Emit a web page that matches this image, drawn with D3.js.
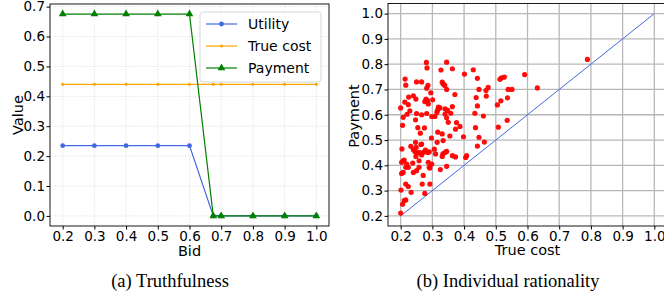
<!DOCTYPE html>
<html>
<head>
<meta charset="utf-8">
<script src="https://cdn.jsdelivr.net/npm/d3@7"></script>
<style>
  body { margin: 0; background: #fff; }
  svg text { font-family: "DejaVu Sans", sans-serif; }
  svg text.caption { font-family: "Liberation Serif", "Times New Roman", serif; }
</style>
</head>
<body>
<div id="chart"></div>
<script>
// (a) Truthfulness
const bids = [0.2, 0.3, 0.4, 0.5, 0.6, 0.675, 0.7, 0.8, 0.9, 1.0];
const utility = [0.235, 0.235, 0.235, 0.235, 0.235, 0, 0, 0, 0, 0];
const trueCost = [0.44, 0.44, 0.44, 0.44, 0.44, 0.44, 0.44, 0.44, 0.44, 0.44];
const payment = [0.675, 0.675, 0.675, 0.675, 0.675, 0, 0, 0, 0, 0];
const leftXTicks = [0.2, 0.3, 0.4, 0.5, 0.6, 0.7, 0.8, 0.9, 1.0];
const leftYTicks = [0.0, 0.1, 0.2, 0.3, 0.4, 0.5, 0.6, 0.7];

// (b) Individual rationality
const costs = [0.200, 0.206, 0.208, 0.214, 0.216, 0.213, 0.220, 0.225, 0.229, 0.224,
  0.240, 0.248, 0.250, 0.266, 0.281, 0.283, 0.286, 0.282, 0.295, 0.280,
  0.285, 0.287, 0.301, 0.276, 0.250, 0.254, 0.262, 0.275, 0.282, 0.266,
  0.247, 0.298, 0.308, 0.316, 0.319, 0.324, 0.314, 0.345, 0.327, 0.363,
  0.331, 0.334, 0.339, 0.345, 0.371, 0.340, 0.348, 0.340, 0.345, 0.350,
  0.358, 0.363, 0.376, 0.387, 0.373, 0.355, 0.317, 0.331, 0.297, 0.315,
  0.334, 0.340, 0.333, 0.345, 0.331, 0.310, 0.363, 0.373, 0.345, 0.325,
  0.298, 0.287, 0.292, 0.290, 0.271, 0.264, 0.266, 0.258, 0.247, 0.249,
  0.245, 0.240, 0.232, 0.250, 0.266, 0.278, 0.248, 0.238, 0.258, 0.240,
  0.250, 0.258, 0.224, 0.216, 0.219, 0.208, 0.211, 0.204, 0.203, 0.203,
  0.208, 0.201, 0.216, 0.224, 0.233, 0.206, 0.211, 0.216, 0.200, 0.268,
  0.271, 0.276, 0.292, 0.290, 0.285, 0.401, 0.429, 0.442, 0.447, 0.438,
  0.442, 0.434, 0.461, 0.436, 0.447, 0.442, 0.464, 0.398, 0.408, 0.405,
  0.469, 0.476, 0.470, 0.508, 0.505, 0.516, 0.513, 0.518, 0.527, 0.536,
  0.537, 0.539, 0.551, 0.591, 0.631, 0.789, 0.306];
const payments = [0.627, 0.558, 0.590, 0.741, 0.717, 0.650, 0.602, 0.670, 0.615, 0.640,
  0.675, 0.662, 0.730, 0.730, 0.807, 0.785, 0.716, 0.705, 0.687, 0.662,
  0.656, 0.643, 0.659, 0.652, 0.605, 0.549, 0.527, 0.548, 0.605, 0.600,
  0.580, 0.593, 0.593, 0.617, 0.630, 0.627, 0.609, 0.808, 0.777, 0.782,
  0.729, 0.722, 0.716, 0.700, 0.680, 0.623, 0.617, 0.603, 0.588, 0.570,
  0.606, 0.632, 0.569, 0.554, 0.543, 0.516, 0.531, 0.524, 0.508, 0.491,
  0.498, 0.451, 0.445, 0.455, 0.435, 0.445, 0.438, 0.433, 0.396, 0.383,
  0.405, 0.412, 0.389, 0.453, 0.451, 0.482, 0.441, 0.451, 0.491, 0.471,
  0.455, 0.462, 0.475, 0.447, 0.484, 0.460, 0.435, 0.409, 0.418, 0.372,
  0.379, 0.392, 0.392, 0.392, 0.405, 0.418, 0.421, 0.465, 0.412, 0.368,
  0.372, 0.302, 0.326, 0.316, 0.293, 0.246, 0.260, 0.263, 0.211, 0.326,
  0.360, 0.289, 0.326, 0.392, 0.451, 0.761, 0.778, 0.744, 0.700, 0.668,
  0.635, 0.606, 0.595, 0.549, 0.511, 0.476, 0.492, 0.513, 0.438, 0.431,
  0.696, 0.708, 0.674, 0.551, 0.639, 0.655, 0.740, 0.746, 0.749, 0.578,
  0.667, 0.700, 0.700, 0.759, 0.706, 0.819, 0.464];
const rightTicks = [0.2, 0.3, 0.4, 0.5, 0.6, 0.7, 0.8, 0.9, 1.0];
const diagonal = [0.2, 1.0];

const svg = d3.select("#chart").append("svg")
    .attr("width", 664)
    .attr("height", 297);

const fmt = d3.format(".1f");
const tickFont = 13.5;
const labelFont = 14.5;

// ---------- left chart ----------
const lx = d3.scaleLinear().domain([0.16, 1.04]).range([50, 329]);
const ly = d3.scaleLinear().domain([-0.03375, 0.70875]).range([226, 4]);

const left = svg.append("g");

// dotted grid
left.append("g").selectAll("line").data(leftXTicks).enter().append("line")
    .attr("x1", d => lx(d)).attr("x2", d => lx(d))
    .attr("y1", 4).attr("y2", 226)
    .attr("stroke", "#d6d6d6").attr("stroke-width", 0.8).attr("stroke-dasharray", "1,1.5");
left.append("g").selectAll("line").data(leftYTicks).enter().append("line")
    .attr("x1", 50).attr("x2", 329)
    .attr("y1", d => ly(d)).attr("y2", d => ly(d))
    .attr("stroke", "#d6d6d6").attr("stroke-width", 0.8).attr("stroke-dasharray", "1,1.5");

const line = d3.line().x(d => lx(d[0])).y(d => ly(d[1]));
const series = [
    { name: "Utility", values: utility, color: "#4169e1", marker: "circle", r: 2.4 },
    { name: "True cost", values: trueCost, color: "#ffa500", marker: "circle", r: 1.6 },
    { name: "Payment", values: payment, color: "#008000", marker: "triangle", r: 2.6 }
];
const triSym = d3.symbol().type(d3.symbolTriangle).size(26);

series.forEach(s => {
    const pts = bids.map((b, i) => [b, s.values[i]]);
    left.append("path").datum(pts)
        .attr("d", line).attr("fill", "none")
        .attr("stroke", s.color).attr("stroke-width", 1.2);
    if (s.marker === "circle") {
        left.append("g").selectAll("circle").data(pts).enter().append("circle")
            .attr("cx", d => lx(d[0])).attr("cy", d => ly(d[1])).attr("r", s.r)
            .attr("fill", s.color);
    } else {
        left.append("g").selectAll("path").data(pts).enter().append("path")
            .attr("d", triSym)
            .attr("transform", d => "translate(" + lx(d[0]) + "," + ly(d[1]) + ")")
            .attr("fill", s.color);
    }
});

left.append("g").attr("transform", "translate(0,226)")
    .call(d3.axisBottom(lx).tickValues(leftXTicks).tickFormat(fmt).tickSizeOuter(0).tickSize(3.5).tickPadding(1.5))
    .call(g => g.select(".domain").remove())
    .selectAll("text").attr("font-size", tickFont).attr("fill", "#000");
left.append("g").attr("transform", "translate(50,0)")
    .call(d3.axisLeft(ly).tickValues(leftYTicks).tickFormat(fmt).tickSizeOuter(0).tickSize(3.5).tickPadding(1.5))
    .call(g => g.select(".domain").remove())
    .selectAll("text").attr("font-size", tickFont).attr("fill", "#000");

left.append("rect").attr("x", 50).attr("y", 4).attr("width", 279).attr("height", 222)
    .attr("fill", "none").attr("stroke", "#000").attr("stroke-width", 0.9);

// legend
const leg = left.append("g").attr("transform", "translate(200,12)");
leg.append("rect").attr("width", 121).attr("height", 70).attr("rx", 2.5)
    .attr("fill", "#fff").attr("fill-opacity", 0.85).attr("stroke", "#cccccc").attr("stroke-width", 0.8);
series.forEach((s, i) => {
    const y = 12 + i * 22;
    leg.append("line").attr("x1", 6).attr("x2", 37).attr("y1", y).attr("y2", y)
        .attr("stroke", s.color).attr("stroke-width", 1.2);
    if (s.marker === "circle") {
        leg.append("circle").attr("cx", 21.5).attr("cy", y).attr("r", s.r).attr("fill", s.color);
    } else {
        leg.append("path").attr("d", triSym).attr("transform", "translate(21.5," + y + ")").attr("fill", s.color);
    }
    leg.append("text").attr("x", 48).attr("y", y + 5).attr("font-size", 14).text(s.name);
});

left.append("text").attr("x", lx(0.6)).attr("y", 255.5).attr("text-anchor", "middle")
    .attr("font-size", labelFont).text("Bid");
left.append("text").attr("transform", "translate(23,115) rotate(-90)").attr("text-anchor", "middle")
    .attr("font-size", labelFont).text("Value");
left.append("text").attr("class", "caption").attr("x", 170).attr("y", 287).attr("text-anchor", "middle")
    .attr("font-size", 18.5).text("(a) Truthfulness");

// ---------- right chart ----------
const rx = d3.scaleLinear().domain([0.16, 1.04]).range([388, 667]);
const ry = d3.scaleLinear().domain([0.16, 1.04]).range([226, 3.5]);

const right = svg.append("g");

right.append("g").selectAll("line").data(rightTicks).enter().append("line")
    .attr("x1", d => rx(d)).attr("x2", d => rx(d))
    .attr("y1", 3.5).attr("y2", 226)
    .attr("stroke", "#b8b8b8").attr("stroke-width", 1.3);
right.append("g").selectAll("line").data(rightTicks).enter().append("line")
    .attr("x1", 388).attr("x2", 667)
    .attr("y1", d => ry(d)).attr("y2", d => ry(d))
    .attr("stroke", "#b8b8b8").attr("stroke-width", 1.3);

right.append("line")
    .attr("x1", rx(diagonal[0])).attr("y1", ry(diagonal[0]))
    .attr("x2", rx(diagonal[1])).attr("y2", ry(diagonal[1]))
    .attr("stroke", "#4169e1").attr("stroke-width", 1);

right.append("g").selectAll("circle").data(costs).enter().append("circle")
    .attr("cx", d => rx(d)).attr("cy", (d, i) => ry(payments[i])).attr("r", 2.6)
    .attr("fill", "#ff0000").attr("fill-opacity", 0.95);

right.append("g").attr("transform", "translate(0,226)")
    .call(d3.axisBottom(rx).tickValues(rightTicks).tickFormat(fmt).tickSizeOuter(0).tickSize(3.5).tickPadding(1.5))
    .call(g => g.select(".domain").remove())
    .selectAll("text").attr("font-size", tickFont).attr("fill", "#000");
right.append("g").attr("transform", "translate(388,0)")
    .call(d3.axisLeft(ry).tickValues(rightTicks).tickFormat(fmt).tickSizeOuter(0).tickSize(3.5).tickPadding(1.5))
    .call(g => g.select(".domain").remove())
    .selectAll("text").attr("font-size", tickFont).attr("fill", "#000");

right.append("rect").attr("x", 388).attr("y", 3.5).attr("width", 279).attr("height", 222.5)
    .attr("fill", "none").attr("stroke", "#000").attr("stroke-width", 0.9);

right.append("text").attr("x", rx(0.6)).attr("y", 255).attr("text-anchor", "middle")
    .attr("font-size", labelFont).text("True cost");
right.append("text").attr("transform", "translate(359,116) rotate(-90)").attr("text-anchor", "middle")
    .attr("font-size", labelFont).text("Payment");
right.append("text").attr("class", "caption").attr("x", 508).attr("y", 287).attr("text-anchor", "middle")
    .attr("font-size", 18.5).text("(b) Individual rationality");
</script>
</body>
</html>
